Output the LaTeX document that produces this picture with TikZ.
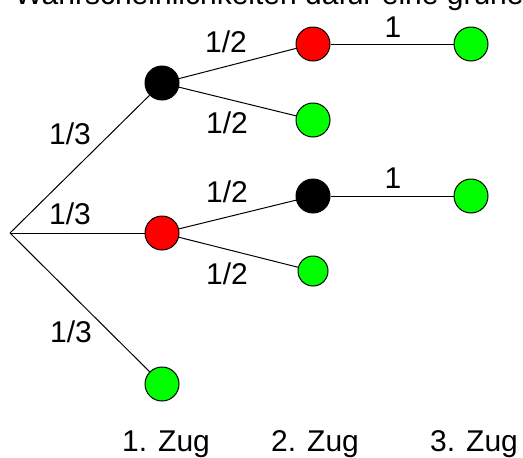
\documentclass[tikz,border=0pt]{standalone}
\usepackage{fontspec}
\setmainfont{Liberation Sans}
\usetikzlibrary{positioning}
\definecolor{lime}{RGB}{0,255,0}
\tikzset{ball/.style = {circle, draw, line width = .5pt, minimum size = 17pt, inner sep = 0pt}}

\begin{document}
\begin{tikzpicture}[x = .5pt, y = -.5pt, font = \fontsize{15}{18}\selectfont, line width = .5pt]
\useasboundingbox (0, 0) rectangle (523, 457);
\clip (0, 0) rectangle (523, 457);
\node[anchor = base west, inner sep = 0pt] (T) at (14, 4) {Wahrscheinlichkeiten dafür eine grüne};

\coordinate (S) at (10, 233);
\node[ball, fill = black] (B) at (162, 83) {};
\node[ball, fill = red] (R) at (162, 233) {};
\node[ball, fill = lime] (G) at (162, 384) {};
\node[ball, fill = red] (BR) at (313, 44) {};
\node[ball, fill = lime] (BG) at (313, 120) {};
\node[ball, fill = black] (RB) at (313, 196) {};
\node[ball, fill = lime, minimum size = 15pt] (RG) at (313, 271) {};
\node[ball, fill = lime] (BRG) at (471, 44) {};
\node[ball, fill = lime] (RBG) at (471, 196) {};

\draw (S) -- (B);
\draw (S) -- (R);
\draw (S) -- (G);
\draw (B) -- (BR);
\draw (B) -- (BG);
\draw (R) -- (RB);
\draw (R) -- (RG);
\draw (BR) -- (BRG);
\draw (RB) -- (RBG);

\node[inner sep = 0pt] (p1) at (70, 134) {1/3};
\node[inner sep = 0pt] (p2) at (70, 214) {1/3};
\node[inner sep = 0pt] (p3) at (71, 332) {1/3};
\node[inner sep = 0pt] (p4) at (226, 42) {1/2};
\node[inner sep = 0pt] (p5) at (227, 123) {1/2};
\node[inner sep = 0pt] (p6) at (227, 192) {1/2};
\node[inner sep = 0pt] (p7) at (227, 274) {1/2};
\node[inner sep = 0pt] (p8) at (393, 27) {1};
\node[inner sep = 0pt] (p9) at (393, 178) {1};

\node[anchor = base, inner sep = 0pt] (Z1) at (166, 451) {1. Zug};
\node[anchor = base, inner sep = 0pt] (Z2) at (315, 451) {2. Zug};
\node[anchor = base, inner sep = 0pt] (Z3) at (474, 451) {3. Zug};
\end{tikzpicture}
\end{document}
